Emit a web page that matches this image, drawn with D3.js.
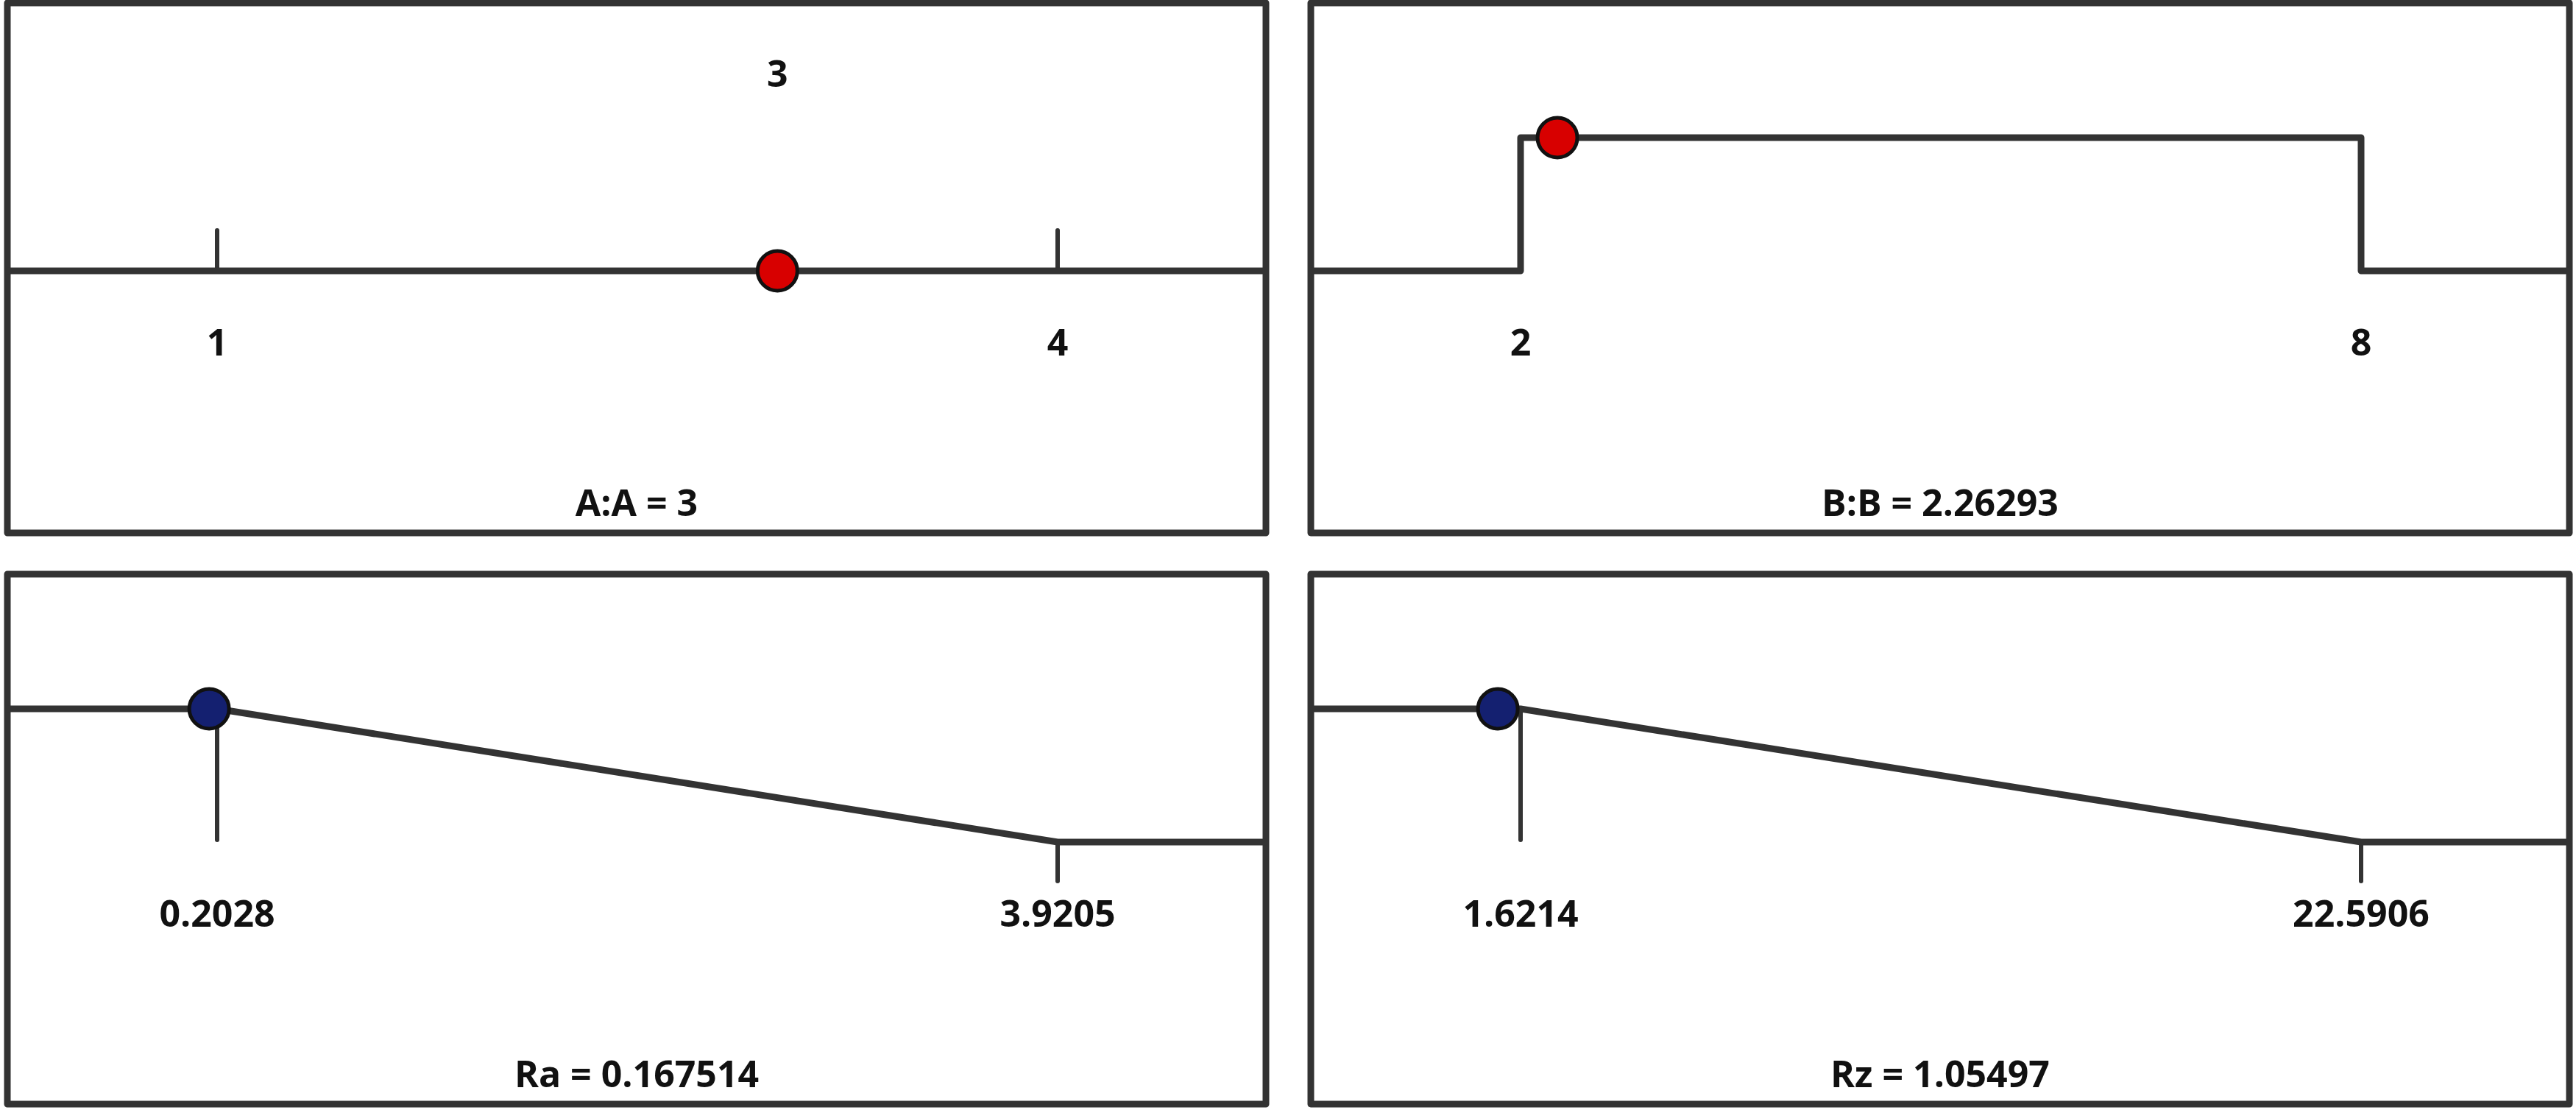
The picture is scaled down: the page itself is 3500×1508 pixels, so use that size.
<!DOCTYPE html>
<html>
<head>
<meta charset="utf-8">
<script src="https://cdn.jsdelivr.net/npm/d3@7"></script>
<style>
  html, body { margin: 0; padding: 0; background: #fff; }
  svg text { font-family: "Open Sans", "Noto Sans", sans-serif; font-weight: 700; fill: #111; }
</style>
</head>
<body>
<div id="chart"></div>
<script>
//---------------------------------- Data --------------------
var panelNames  = ["A:A", "B:B", "Ra", "Rz"];
var panelKinds  = ["factor", "range", "minimize", "minimize"];
var lowLimits   = [1, 2, 0.2028, 1.6214];
var highLimits  = [4, 8, 3.9205, 22.5906];
var lowLabels   = ["1", "2", "0.2028", "1.6214"];
var highLabels  = ["4", "8", "3.9205", "22.5906"];
var currentVals = [3, 2.26293, 0.167514, 1.05497];
var currentText = ["3", "2.26293", "0.167514", "1.05497"];
var dotColors   = ["#d80000", "#d80000", "#142070", "#142070"];

//---------------------------------- Layout --------------------
var width = 3500, height = 1508;
var panelW = 1710, panelH = 720;
var panelX = [10, 1781, 10, 1781];
var panelY = [4, 4, 780, 780];

var svg = d3.select("div#chart")
   .append("svg")
   .attr("width", width)
   .attr("height", height)
   .attr("viewBox", "0 0 " + width + " " + height);

// desirability level: 0 = baseline, 1 = top step
var y_scale = d3.scaleLinear().domain([0, 1]).range([364, 183]);

var line = d3.line()
   .x(function(d) { return d[0]; })
   .y(function(d) { return d[1]; });

panelNames.forEach(function(name, i) {

   var g = svg.append("g")
      .attr("transform", "translate(" + panelX[i] + "," + panelY[i] + ")");

   var x_scale = d3.scaleLinear()
      .domain([lowLimits[i], highLimits[i]])
      .range([285, 1427]);

   // ---------- Border around the panel ----------
   g.append("rect")
      .attr("x", 0).attr("y", 0)
      .attr("width", panelW).attr("height", panelH)
      .style("fill", "none")
      .style("stroke", "#333")
      .style("stroke-width", 9)
      .style("stroke-linejoin", "round");

   var pts = [];
   var kind = panelKinds[i];
   if (kind == "factor") {
      pts = [[0, y_scale(0)], [panelW, y_scale(0)]];
   } else if (kind == "range") {
      pts = [[0, y_scale(0)],
             [x_scale(lowLimits[i]), y_scale(0)],
             [x_scale(lowLimits[i]), y_scale(1)],
             [x_scale(highLimits[i]), y_scale(1)],
             [x_scale(highLimits[i]), y_scale(0)],
             [panelW, y_scale(0)]];
   } else {
      pts = [[0, y_scale(1)],
             [x_scale(lowLimits[i]), y_scale(1)],
             [x_scale(highLimits[i]), y_scale(0)],
             [panelW, y_scale(0)]];
   }

   // ------------- ticks at the limits --------------
   var ticks = [];
   if (kind == "factor") {
      ticks = [[lowLimits[i], y_scale(0), y_scale(0) - 55],
               [highLimits[i], y_scale(0), y_scale(0) - 55]];
   } else if (kind == "minimize") {
      ticks = [[lowLimits[i], y_scale(1), y_scale(0) - 3],
               [highLimits[i], y_scale(0), y_scale(0) + 53]];
   }
   g.selectAll(".tick_mark").data(ticks).enter().append("line")
      .attr("class", "tick_mark")
      .attr("x1", function(d) { return x_scale(d[0]); })
      .attr("x2", function(d) { return x_scale(d[0]); })
      .attr("y1", function(d) { return d[1]; })
      .attr("y2", function(d) { return d[2]; })
      .style("stroke", "#333")
      .style("stroke-width", 6)
      .style("stroke-linecap", "round");

   g.append("path")
      .attr("d", line(pts))
      .style("fill", "none")
      .style("stroke", "#333")
      .style("stroke-width", 9)
      .style("stroke-linejoin", "round");

   // ------------- limit labels --------------
   g.selectAll(".limit_label").data([[lowLimits[i], lowLabels[i]], [highLimits[i], highLabels[i]]])
      .enter().append("text")
      .attr("class", "limit_label")
      .attr("x", function(d) { return x_scale(d[0]); })
      .attr("y", 461)
      .attr("dy", "0.36em")
      .attr("text-anchor", "middle")
      .style("font-size", "50px")
      .text(function(d) { return d[1]; });

   if (kind == "factor") {
      g.append("text")
         .attr("x", x_scale(currentVals[i]))
         .attr("y", 96)
         .attr("dy", "0.36em")
         .attr("text-anchor", "middle")
         .style("font-size", "50px")
         .text(currentText[i]);
   }

   // ------------- current setting dot --------------
   var dotY = (kind == "factor") ? y_scale(0) : y_scale(1);
   g.append("circle")
      .attr("cx", x_scale(currentVals[i]))
      .attr("cy", dotY)
      .attr("r", 27)
      .style("fill", dotColors[i])
      .style("stroke", "#111")
      .style("stroke-width", 5);

   // ------------- panel title --------------
   g.append("text")
      .attr("x", panelW / 2)
      .attr("y", 679)
      .attr("dy", "0.36em")
      .attr("text-anchor", "middle")
      .style("font-size", "50px")
      .text(name + " = " + currentText[i]);
});
</script>
</body>
</html>
